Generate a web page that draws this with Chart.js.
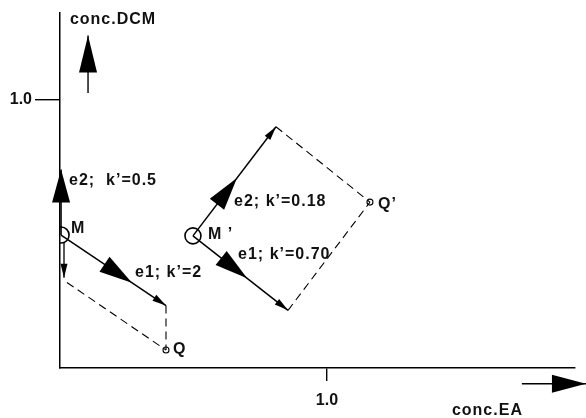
<!DOCTYPE html>
<html><head><meta charset="utf-8">
<script src="https://cdn.jsdelivr.net/npm/chart.js@4.4.1/dist/chart.umd.min.js"></script>
<style>html,body{margin:0;padding:0;background:#fff}canvas{display:block}</style>
</head><body>
<canvas id="c" width="586" height="418"></canvas>
<script>
// ---- data (concentration units) ----
const pointM     = {x:0.004, y:0.496};
const pointQ     = {x:0.397, y:0.067};
const pointM2    = {x:0.498, y:0.493};
const pointQ2    = {x:1.161, y:0.619};
const tipE1      = {x:0.397, y:0.233};
const tipE2      = {x:0.004, y:0.741};
const downStart  = {x:0.015, y:0.467};
const downEnd    = {x:0.015, y:0.337};
const dashCorner = {x:0.026, y:0.319};
const tipE1b     = {x:0.854, y:0.215};
const tipE2b     = {x:0.809, y:0.900};
const axisArrowY = [{x:0.105, y:1.026}, {x:0.105, y:1.241}];
const axisArrowX = [{x:1.730, y:-0.059}, {x:1.970, y:-0.059}];
const xTicks = [1.0];
const yTicks = [1.0];
const labelTexts  = ['conc.DCM', 'e2;  k\u2019=0.5', 'M', 'e1; k\u2019=2', 'Q', 'M \u2019', 'e2; k\u2019=0.18', 'e1; k\u2019=0.70', 'Q\u2019', 'conc.EA'];
const labelAnchors = [
  {x:0.037, y:1.300}, {x:0.034, y:0.700}, {x:0.041, y:0.519}, {x:0.281, y:0.356},
  {x:0.423, y:0.067}, {x:0.554, y:0.496}, {x:0.652, y:0.619}, {x:0.667, y:0.422},
  {x:1.191, y:0.611}, {x:1.468, y:-0.159}
];

const FONT = '"Liberation Sans", Arial, sans-serif';
Chart.defaults.font.family = FONT;
Chart.defaults.font.weight = 'bold';
Chart.defaults.font.size = 16;
Chart.defaults.color = '#111';

function shaft(data, arrow, width) {
  return {type:'line', data, showLine:true, borderColor:'#000', borderWidth:width||1.5,
          pointRadius:0, fill:false, arrow, clip:false};
}
function dashed(data) {
  return {type:'line', data, showLine:true, borderColor:'#000', borderWidth:1.1,
          borderDash:[8,5], pointRadius:0, fill:false};
}
function circle(data, r) {
  return {type:'scatter', data, pointRadius:r, pointBorderWidth:r>5?1.6:1.1,
          pointBorderColor:'#000', pointBackgroundColor:'rgba(255,255,255,0)', showLine:false};
}

const BIG = {len:33, hw:9}, SMALL = {len:14, hw:3.5};

const arrowPlugin = {
  id:'arrows',
  afterDatasetsDraw(chart) {
    const ctx = chart.ctx;
    ctx.save();
    ctx.fillStyle = '#000';
    chart.data.datasets.forEach((ds, i) => {
      if (!ds.arrow) return;
      const pts = chart.getDatasetMeta(i).data;
      const p0 = pts[0], p1 = pts[1];
      const dx = p1.x - p0.x, dy = p1.y - p0.y, L = Math.hypot(dx, dy);
      const ux = dx / L, uy = dy / L, nx = -uy, ny = ux;
      const head = (f, s) => {
        const tx = p0.x + dx * f, ty = p0.y + dy * f;
        const bx = tx - ux * s.len, by = ty - uy * s.len;
        ctx.beginPath();
        ctx.moveTo(tx, ty);
        ctx.lineTo(bx + nx * s.hw, by + ny * s.hw);
        ctx.lineTo(bx - nx * s.hw, by - ny * s.hw);
        ctx.closePath();
        ctx.fill();
      };
      if (ds.arrow.big != null) head(ds.arrow.big, ds.arrow.bigSize || BIG);
      if (ds.arrow.small) head(1, SMALL);
    });
    ctx.restore();
  },
  afterDraw(chart) {
    const ctx = chart.ctx, xs = chart.scales.x, ys = chart.scales.y;
    ctx.save();
    ctx.fillStyle = '#111';
    ctx.font = 'bold 16px ' + FONT;
    ctx.textBaseline = 'middle';
    ctx.textAlign = 'left';
    try { ctx.letterSpacing = '1px'; } catch(e) {}
    labelTexts.forEach((t, i) => {
      ctx.fillText(t, xs.getPixelForValue(labelAnchors[i].x), ys.getPixelForValue(labelAnchors[i].y));
    });
    ctx.restore();
  }
};

new Chart(document.getElementById('c'), {
  type:'scatter',
  data:{datasets:[
    shaft([pointM, tipE1], {big:0.675, small:true}),
    shaft([pointM, tipE2], {big:1}),
    shaft([downStart, downEnd], {small:true}, 1.3),
    shaft([pointM2, tipE1b], {big:0.57, small:true}),
    shaft([pointM2, tipE2b], {big:0.53, small:true}),
    dashed([dashCorner, pointQ]),
    dashed([tipE1, pointQ]),
    dashed([tipE2b, pointQ2]),
    dashed([tipE1b, pointQ2]),
    shaft(axisArrowY, {big:1, bigSize:{len:37, hw:9}}, 1.4),
    shaft(axisArrowX, {big:1, bigSize:{len:34, hw:9}}, 1.4),
    circle([pointM, pointM2], 8),
    circle([pointQ, pointQ2], 3)
  ]},
  options:{
    responsive:false, animation:false,
    layout:{padding:{top:10, right:11, left:0, bottom:0}},
    plugins:{legend:{display:false}, tooltip:{enabled:false}},
    scales:{
      x:{type:'linear', min:0, max:1.929,
         afterBuildTicks:s=>{ s.ticks = xTicks.map(v=>({value:v})); },
         afterFit:s=>{ s.height = 50; },
         ticks:{callback:v=>Number(v).toFixed(1), padding:10, maxRotation:0, color:'#111'},
         grid:{display:true, drawOnChartArea:false, drawTicks:true, tickLength:13, color:'#000', lineWidth:1.4},
         border:{display:true, color:'#000', width:1.5}},
      y:{type:'linear', min:0, max:1.326,
         afterBuildTicks:s=>{ s.ticks = yTicks.map(v=>({value:v})); },
         afterFit:s=>{ s.width = 60; },
         ticks:{callback:v=>Number(v).toFixed(1), padding:3, color:'#111'},
         grid:{display:true, drawOnChartArea:false, drawTicks:true, tickLength:25, color:'#000', lineWidth:1.4},
         border:{display:true, color:'#000', width:1.5}}
    }
  },
  plugins:[arrowPlugin]
});
</script>
</body></html>
